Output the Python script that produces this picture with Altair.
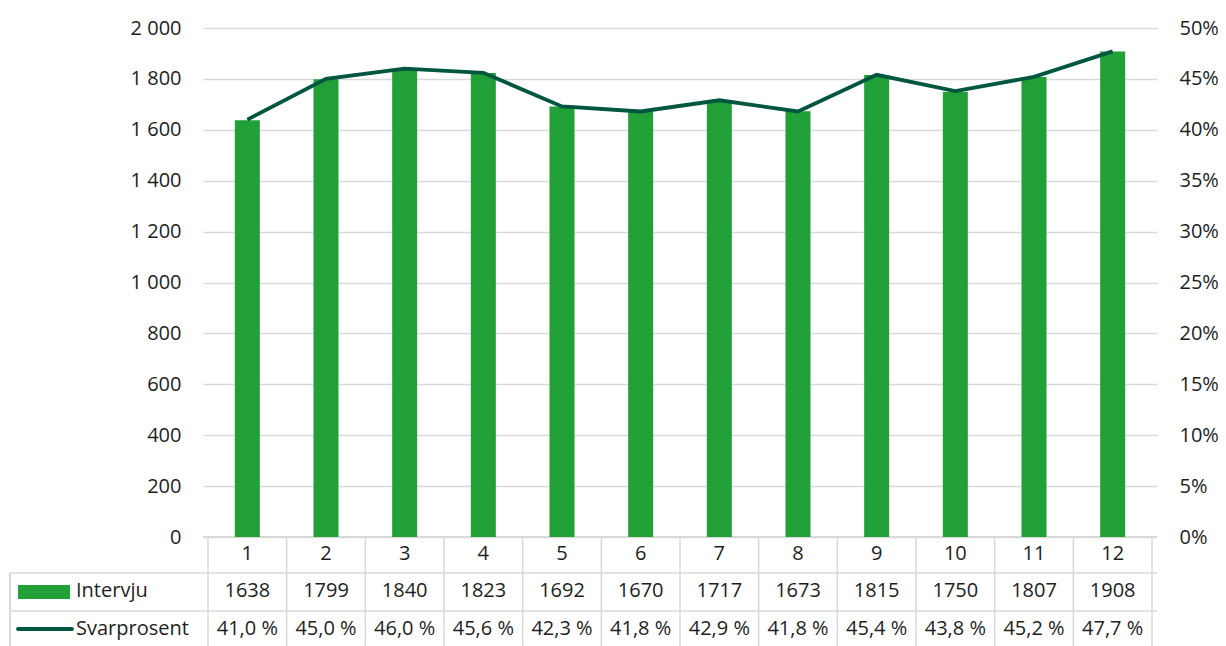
import altair as alt
import pandas as pd

months = [1, 2, 3, 4, 5, 6, 7, 8, 9, 10, 11, 12]
intervju = [1638, 1799, 1840, 1823, 1692, 1670, 1717, 1673, 1815, 1750, 1807, 1908]
svarprosent = [41.0, 45.0, 46.0, 45.6, 42.3, 41.8, 42.9, 41.8, 45.4, 43.8, 45.2, 47.7]
row_labels = ["Intervju", "Svarprosent"]

BAR = "#21a038"
LINE = "#00563f"
GRID = "#d9d9d9"
FONT = "Open Sans"
FS = 20
W, H = 954, 509

df = pd.DataFrame({
    "m": months,
    "intervju": intervju,
    "rate": [v / 100 for v in svarprosent],
    "m_lbl": [str(m) for m in months],
    "i_lbl": [str(v) for v in intervju],
    "r_lbl": [f"{v:.1f} %".replace(".", ",") for v in svarprosent],
})
bounds = pd.DataFrame({"b": [m - 0.5 for m in months] + [months[-1] + 0.5]})

xs = alt.Scale(domain=[0.5, 12.5], nice=False, zero=False)
X = alt.X("m:Q", scale=xs, axis=None)

bars = alt.Chart(df).mark_bar(color=BAR, size=25).encode(
    x=X,
    y=alt.Y("intervju:Q", scale=alt.Scale(domain=[0, 2000], nice=False),
            axis=alt.Axis(values=list(range(0, 2001, 200)), title=None, domain=False, ticks=False,
                          labelExpr="replace(format(datum.value, ','), ',', ' ')",
                          labelPadding=22, gridColor=GRID, gridWidth=1.5)),
)

line = alt.Chart(df).mark_line(color=LINE, strokeWidth=3.8).encode(
    x=X,
    y=alt.Y("rate:Q", scale=alt.Scale(domain=[0, 0.5], nice=False),
            axis=alt.Axis(orient="right", values=[i * 0.05 for i in range(11)], format=".0%",
                          title=None, domain=False, ticks=False, grid=False, labelPadding=22)),
)

base = alt.Chart(df)
t_month = base.mark_text(fontSize=FS, font=FONT, color="#1e1e1e").encode(x=X, y=alt.value(526), text="m_lbl:N")
t_int = base.mark_text(fontSize=FS, font=FONT, color="#1e1e1e").encode(x=X, y=alt.value(563), text="i_lbl:N")
t_rate = base.mark_text(fontSize=FS, font=FONT, color="#1e1e1e").encode(x=X, y=alt.value(601), text="r_lbl:N")

vlines = alt.Chart(bounds).mark_rule(color=GRID, strokeWidth=1.5).encode(
    x=alt.X("b:Q", scale=xs, axis=None), y=alt.value(508), y2=alt.value(640))

hl = pd.DataFrame({"y": [545, 583]})
hlines = alt.Chart(hl).mark_rule(color=GRID, strokeWidth=1.5).encode(
    x=alt.value(-193), x2=alt.value(W), y=alt.Y("y:Q", scale=None))
toprule = alt.Chart(df).mark_rule(color=GRID, strokeWidth=1.5).encode(
    x=alt.value(0), x2=alt.value(W), y=alt.value(509))
leftrule = alt.Chart(df).mark_rule(color=GRID, strokeWidth=1.5).encode(
    x=alt.value(-193), y=alt.value(545), y2=alt.value(640))

lab = pd.DataFrame({"name": row_labels, "yy": [563, 601]})
labels = alt.Chart(lab).mark_text(fontSize=FS, font=FONT, color="#1e1e1e", align="left").encode(
    x=alt.value(-127), y=alt.Y("yy:Q", scale=None), text="name:N")
sym_bar = alt.Chart(lab.iloc[[0]]).mark_rect(color=BAR).encode(
    x=alt.value(-185), x2=alt.value(-133), y=alt.value(557), y2=alt.value(571))
sym_line = alt.Chart(lab.iloc[[1]]).mark_rule(color=LINE, strokeWidth=3.8, strokeCap="round").encode(
    x=alt.value(-185), x2=alt.value(-131), y=alt.value(601))

chart = alt.layer(
    hlines, toprule, leftrule, vlines, bars, line, t_month, t_int, t_rate, labels, sym_bar, sym_line
).resolve_scale(y="independent").properties(
    width=W, height=H,
    autosize=alt.AutoSizeParams(type="none"),
    padding={"left": 195, "top": 20, "right": 61, "bottom": 109},
).configure_view(stroke=None).configure_axis(
    labelFont=FONT, labelFontSize=FS, labelColor="#1e1e1e"
)

chart.save("out.html", embed_options={"renderer": "svg", "actions": False})
